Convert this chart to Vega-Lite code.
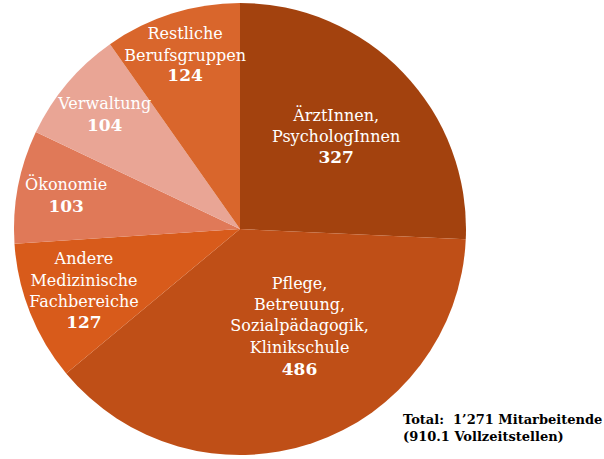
{
  "$schema": "https://vega.github.io/schema/vega-lite/v6.json",
  "width": 480,
  "height": 458,
  "autosize": {"type": "none"},
  "padding": {"left": 0, "top": 0, "right": 124, "bottom": 1},
  "background": "white",
  "config": {"view": {"stroke": null}},
  "data": {
    "values": [
      {"i": 1, "gruppe": "ÄrztInnen, PsychologInnen", "label": "ÄrztInnen,\nPsychologInnen", "n": 327},
      {"i": 2, "gruppe": "Pflege, Betreuung, Sozialpädagogik, Klinikschule", "label": "Pflege,\nBetreuung,\nSozialpädagogik,\nKlinikschule", "n": 486},
      {"i": 3, "gruppe": "Andere Medizinische Fachbereiche", "label": "Andere\nMedizinische\nFachbereiche", "n": 127},
      {"i": 4, "gruppe": "Ökonomie", "label": "Ökonomie", "n": 103},
      {"i": 5, "gruppe": "Verwaltung", "label": "Verwaltung", "n": 104},
      {"i": 6, "gruppe": "Restliche Berufsgruppen", "label": "Restliche\nBerufsgruppen", "n": 124}
    ]
  },
  "encoding": {
    "theta": {"field": "n", "type": "quantitative", "stack": true},
    "order": {"field": "i", "type": "quantitative"}
  },
  "layer": [
    {
      "mark": {"type": "arc", "outerRadius": 226},
      "encoding": {
        "color": {
          "field": "gruppe",
          "type": "nominal",
          "scale": {
            "domain": ["ÄrztInnen, PsychologInnen", "Pflege, Betreuung, Sozialpädagogik, Klinikschule", "Andere Medizinische Fachbereiche", "Ökonomie", "Verwaltung", "Restliche Berufsgruppen"],
            "range": ["#A3420E", "#BF4F17", "#D85B1B", "#E07958", "#E9A595", "#D9662C"]
          },
          "legend": null
        }
      }
    },
    {
      "mark": {"type": "text", "radius": 133, "font": "DejaVu Serif", "fontSize": 16, "fill": "white", "baseline": "middle", "lineBreak": "\n", "lineHeight": 21.3, "dy": -21},
      "encoding": {"text": {"field": "label", "type": "nominal"}, "opacity": {"condition": {"test": "datum.i == 1", "value": 1}, "value": 0}}
    },
    {
      "mark": {"type": "text", "radius": 133, "font": "DejaVu Serif", "fontSize": 17, "fontWeight": "bold", "fill": "white", "baseline": "middle", "dy": 21},
      "encoding": {"text": {"field": "n", "type": "quantitative"}, "opacity": {"condition": {"test": "datum.i == 1", "value": 1}, "value": 0}}
    },
    {
      "mark": {"type": "text", "radius": 118, "font": "DejaVu Serif", "fontSize": 16, "fill": "white", "baseline": "middle", "lineBreak": "\n", "lineHeight": 21.3, "dx": 22, "dy": -57},
      "encoding": {"text": {"field": "label", "type": "nominal"}, "opacity": {"condition": {"test": "datum.i == 2", "value": 1}, "value": 0}}
    },
    {
      "mark": {"type": "text", "radius": 118, "font": "DejaVu Serif", "fontSize": 17, "fontWeight": "bold", "fill": "white", "baseline": "middle", "dx": 22, "dy": 29},
      "encoding": {"text": {"field": "n", "type": "quantitative"}, "opacity": {"condition": {"test": "datum.i == 2", "value": 1}, "value": 0}}
    },
    {
      "mark": {"type": "text", "radius": 168, "font": "DejaVu Serif", "fontSize": 16, "fill": "white", "baseline": "middle", "lineBreak": "\n", "lineHeight": 21.3, "dy": -32},
      "encoding": {"text": {"field": "label", "type": "nominal"}, "opacity": {"condition": {"test": "datum.i == 3", "value": 1}, "value": 0}}
    },
    {
      "mark": {"type": "text", "radius": 168, "font": "DejaVu Serif", "fontSize": 17, "fontWeight": "bold", "fill": "white", "baseline": "middle", "dy": 32},
      "encoding": {"text": {"field": "n", "type": "quantitative"}, "opacity": {"condition": {"test": "datum.i == 3", "value": 1}, "value": 0}}
    },
    {
      "mark": {"type": "text", "radius": 177, "font": "DejaVu Serif", "fontSize": 16, "fill": "white", "baseline": "middle", "lineBreak": "\n", "lineHeight": 21.3, "dy": -11},
      "encoding": {"text": {"field": "label", "type": "nominal"}, "opacity": {"condition": {"test": "datum.i == 4 || datum.i == 5", "value": 1}, "value": 0}}
    },
    {
      "mark": {"type": "text", "radius": 177, "font": "DejaVu Serif", "fontSize": 17, "fontWeight": "bold", "fill": "white", "baseline": "middle", "dy": 11},
      "encoding": {"text": {"field": "n", "type": "quantitative"}, "opacity": {"condition": {"test": "datum.i == 4 || datum.i == 5", "value": 1}, "value": 0}}
    },
    {
      "mark": {"type": "text", "radius": 182, "font": "DejaVu Serif", "fontSize": 16, "fill": "white", "baseline": "middle", "lineBreak": "\n", "lineHeight": 21.3, "dy": -21},
      "encoding": {"text": {"field": "label", "type": "nominal"}, "opacity": {"condition": {"test": "datum.i == 6", "value": 1}, "value": 0}}
    },
    {
      "mark": {"type": "text", "radius": 182, "font": "DejaVu Serif", "fontSize": 17, "fontWeight": "bold", "fill": "white", "baseline": "middle", "dy": 21},
      "encoding": {"text": {"field": "n", "type": "quantitative"}, "opacity": {"condition": {"test": "datum.i == 6", "value": 1}, "value": 0}}
    }
  ],
  "title": {
    "text": ["Total:\u00a0 1’271 Mitarbeitende", "(910.1 Vollzeitstellen)"],
    "orient": "bottom",
    "anchor": "start",
    "frame": "group",
    "dx": 403,
    "offset": -44,
    "font": "DejaVu Serif",
    "fontSize": 13,
    "fontWeight": "bold",
    "color": "black",
    "lineHeight": 17,
    "baseline": "top",
    "align": "left"
  }
}
